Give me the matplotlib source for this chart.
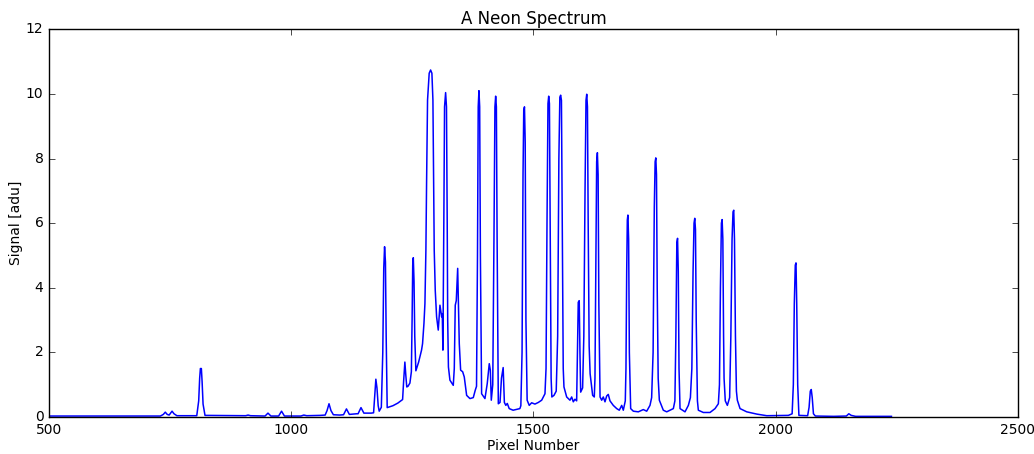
import numpy as np
import matplotlib
matplotlib.use("Agg")
import matplotlib.pyplot as plt

plt.style.use("classic")

# traced spectrum, split by region (pixel number / signal in adu)
pixel_a = [500, 600, 700, 730, 736, 740, 744, 748, 754, 758,
           764, 800, 805, 809, 811, 812.5, 814.5, 816, 818, 822,
           900, 906, 911, 916, 940, 946, 952, 958, 974, 980,
           986, 1020, 1026, 1032, 1060, 1070, 1074, 1078, 1082, 1087,
           1100, 1108, 1114, 1120, 1135, 1138, 1144, 1150, 1165, 1170,
           1172.5, 1174.7, 1177, 1179.5, 1181.6, 1186, 1189, 1191, 1192.7, 1194.5,
           1196, 1198.1]
signal_a = [0.03, 0.03, 0.03, 0.03, 0.08, 0.15, 0.08, 0.06, 0.18, 0.10,
            0.04, 0.04, 0.04, 0.5, 1.2, 1.5, 1.5, 1.1, 0.4, 0.05,
            0.04, 0.04, 0.06, 0.04, 0.03, 0.03, 0.12, 0.03, 0.03, 0.18,
            0.03, 0.03, 0.06, 0.04, 0.05, 0.06, 0.2, 0.41, 0.2, 0.07,
            0.06, 0.07, 0.25, 0.08, 0.1, 0.1, 0.29, 0.12, 0.12, 0.13,
            0.7, 1.17, 0.9, 0.35, 0.18, 0.3, 2.0, 4.6, 5.27, 4.8,
            2.5, 0.29]

pixel_b = [1210, 1220, 1229.9, 1232, 1234.6, 1236.5, 1238.5, 1241, 1245, 1248,
           1249.5, 1250.8, 1252, 1253.5, 1255, 1257.3, 1263, 1269, 1271.1, 1274,
           1276, 1278, 1279.4, 1281.4, 1284.8, 1287.7, 1290.4, 1292.5, 1293.9, 1295.2,
           1297.3, 1300.1, 1303.5, 1307, 1310.5, 1311.8, 1313.1, 1315, 1316.5, 1318.7,
           1320.5, 1322, 1323, 1324.5, 1327.6, 1334.5, 1336.6, 1338.6, 1340.7, 1343.6,
           1345.6, 1346.9, 1349.7, 1353.9, 1357.2, 1362.1, 1368.9, 1375.8, 1379.9, 1382.5,
           1384.5, 1386, 1387.5, 1389, 1390.5, 1393, 1399.9, 1404.6, 1408.8, 1411,
           1413, 1416, 1418.5, 1420.5, 1422, 1423.5, 1425, 1427.5, 1431, 1434,
           1437.5, 1440, 1443, 1446, 1450, 1458, 1472]
signal_b = [0.35, 0.43, 0.54, 1.1, 1.70, 1.3, 0.93, 0.95, 1.05, 1.4,
            3.0, 4.7, 4.93, 4.2, 2.5, 1.43, 1.7, 2.07, 2.27, 2.9,
            3.51, 5.16, 7.24, 9.81, 10.64, 10.74, 10.64, 9.81, 7.24, 5.16,
            3.92, 3.10, 2.69, 3.46, 3.1, 3.2, 2.07, 6.0, 9.6, 10.04,
            9.6, 6.0, 3.0, 1.55, 1.14, 0.98, 1.5, 3.46, 3.6, 4.6,
            3.2, 2.27, 1.45, 1.40, 1.24, 0.67, 0.57, 0.6, 0.83, 0.95,
            5.0, 9.6, 10.1, 9.6, 5.0, 0.72, 0.57, 1.03, 1.65, 1.45,
            0.52, 1.0, 5.5, 9.6, 9.93, 9.6, 5.5, 0.41, 0.45, 1.2,
            1.53, 0.45, 0.36, 0.42, 0.26, 0.21, 0.26]

pixel_c = [1474, 1476.5, 1478.5, 1480, 1481.5, 1483, 1484.5, 1487, 1491.3, 1496.3,
           1503.1, 1510, 1517, 1523.8, 1526, 1528, 1530, 1531.5, 1533, 1534.5,
           1536.5, 1538, 1542.4, 1547, 1550, 1552.5, 1554.5, 1556.2, 1557.8, 1559.5,
           1561.5, 1563, 1568.6, 1575.4, 1578.9, 1582.3, 1585.7, 1589.2, 1590.8, 1592.5,
           1594.5, 1596, 1597.5, 1601.5, 1604, 1606.5, 1608.5, 1610, 1611.5, 1613,
           1615, 1617, 1622.2, 1625.6, 1627, 1629, 1630.5, 1632, 1633.5, 1635,
           1637.5, 1640.9, 1644.2, 1647.7, 1651.2, 1654.5, 1658, 1664.8, 1671.9, 1677.2,
           1682.2, 1685.5, 1689.6, 1691, 1692.5, 1693.8, 1695, 1696.5, 1698, 1700.7]
signal_c = [0.35, 2.0, 7.5, 9.5, 9.6, 8.5, 3.0, 0.52, 0.36, 0.44,
            0.4, 0.45, 0.52, 0.72, 1.5, 6.0, 9.7, 9.93, 9.7, 6.0,
            1.2, 0.62, 0.67, 0.8, 2.5, 8.0, 9.9, 9.96, 9.8, 6.0,
            1.5, 0.93, 0.62, 0.52, 0.62, 0.47, 0.55, 0.5, 2.0, 3.55,
            3.6, 2.0, 0.77, 0.9, 2.5, 7.0, 9.8, 9.99, 9.6, 6.0,
            2.2, 1.34, 0.67, 0.62, 1.2, 5.0, 7.9, 8.18, 7.5, 3.5,
            0.62, 0.52, 0.62, 0.47, 0.65, 0.70, 0.5, 0.36, 0.26, 0.21,
            0.36, 0.21, 0.5, 1.5, 4.5, 6.1, 6.25, 5.5, 2.0, 0.26]

pixel_d = [1706.2, 1716.5, 1726.8, 1733.8, 1740.6, 1744, 1747, 1749.5, 1751.2, 1752.6,
           1754, 1755.5, 1757.5, 1759.9, 1768.1, 1775.1, 1781.9, 1788.8, 1792, 1794,
           1796, 1797.5, 1799, 1800.5, 1802.6, 1812.9, 1819.8, 1824, 1827, 1829.5,
           1831.5, 1833, 1834.5, 1836, 1838.5, 1840.4, 1850.7, 1864.5, 1874.9, 1881.7,
           1884, 1886, 1888, 1889.5, 1891, 1892.5, 1893.5, 1896, 1900.3, 1905,
           1907.5, 1910, 1912, 1913.5, 1915, 1917, 1919, 1920.9, 1926.5, 1940.3,
           1961, 1981.6, 2026.3, 2034, 2036.5, 2038.5, 2040.5, 2042, 2043.5, 2045.5,
           2048, 2066, 2069, 2071.5, 2073.5, 2075.5, 2078, 2082, 2120, 2146,
           2151, 2156, 2165, 2239]
signal_d = [0.18, 0.16, 0.23, 0.18, 0.36, 0.6, 2.0, 6.5, 7.9, 8.02,
            7.5, 4.0, 1.2, 0.52, 0.21, 0.16, 0.21, 0.26, 0.5, 2.5,
            5.4, 5.53, 4.5, 1.5, 0.26, 0.16, 0.36, 0.6, 1.5, 4.5,
            6.0, 6.15, 5.8, 3.0, 0.5, 0.21, 0.14, 0.14, 0.26, 0.41,
            1.0, 4.0, 6.0, 6.11, 5.5, 2.5, 1.2, 0.5, 0.36, 0.6,
            2.5, 5.5, 6.35, 6.40, 5.5, 2.5, 0.8, 0.52, 0.26, 0.16,
            0.09, 0.04, 0.05, 0.1, 1.0, 3.5, 4.7, 4.77, 3.5, 1.0,
            0.05, 0.04, 0.3, 0.8, 0.85, 0.6, 0.1, 0.03, 0.02, 0.03,
            0.10, 0.05, 0.02, 0.02]

pixels = np.concatenate([pixel_a, pixel_b, pixel_c, pixel_d])
signal = np.concatenate([signal_a, signal_b, signal_c, signal_d])
assert len(pixels) == len(signal)


fig = plt.figure(figsize=(10.34, 4.54), dpi=100)
ax = fig.add_axes([0.0474, 0.0815, 0.937, 0.854])

ax.plot(pixels, signal, color="b", lw=1.1)
ax.set_xlim(500, 2500)
ax.set_ylim(0, 12)
ax.set_xlabel("Pixel Number", fontsize=10, labelpad=2)
ax.set_ylabel("Signal [adu]", fontsize=10, labelpad=2)
ax.set_title("A Neon Spectrum", fontsize=12, pad=4)
ax.tick_params(labelsize=10)

fig.savefig("out.png", dpi=100, facecolor="white")
